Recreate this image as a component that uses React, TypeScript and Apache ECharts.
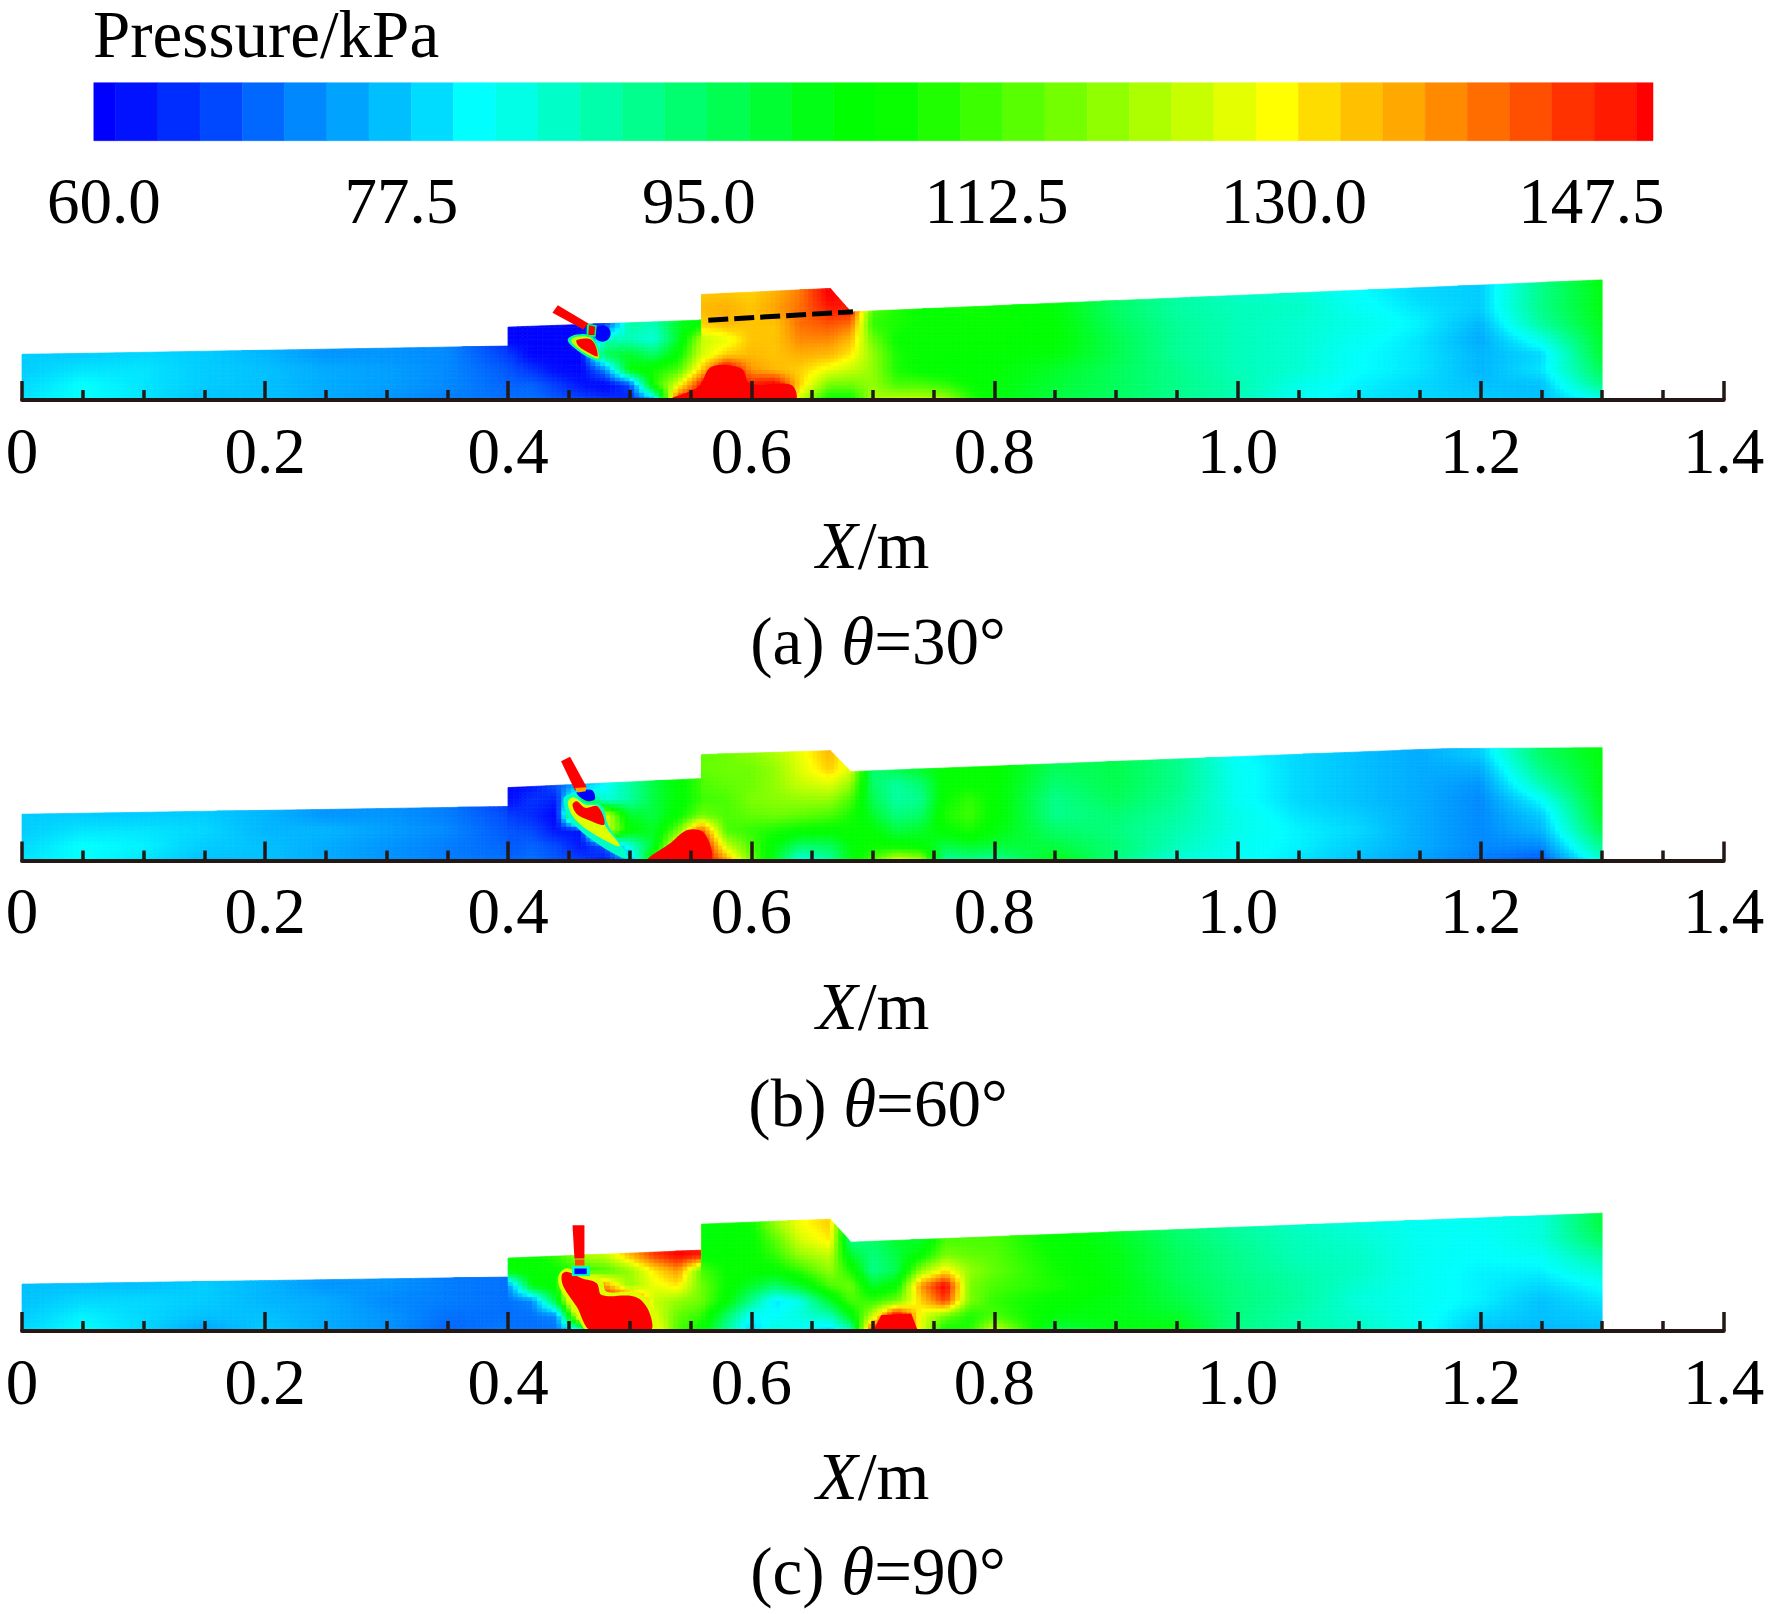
import React, { useEffect, useRef } from "react";
import * as echarts from "echarts";

const FONT = "Liberation Serif";
const INK = "#231815";

// Colour bar: band edges (kPa) and the colour of each band
const bandEdges = [59.4, 60.68, 63.17, 65.65, 68.14, 70.62, 73.11, 75.59, 78.08, 80.56, 83.05, 85.53, 88.02, 90.5, 92.99, 95.47, 97.96, 100.44, 102.93, 105.41, 107.9, 110.38, 112.87, 115.35, 117.84, 120.32, 122.81, 125.29, 127.78, 130.26, 132.75, 135.23, 137.72, 140.2, 142.69, 145.17, 147.66, 150.14, 151.12];
const bandColors = ["#0000ff", "#0012ff", "#002dff", "#0048ff", "#0068ff", "#0088ff", "#00a4ff", "#00bfff", "#00dcff", "#00ffff", "#00ffe6", "#00ffc8", "#00ffaa", "#00ff8c", "#00ff6e", "#00ff50", "#00ff32", "#00ff14", "#00ff00", "#08ff00", "#20ff00", "#3cff00", "#58ff00", "#74ff00", "#90ff00", "#adff00", "#c8ff00", "#e4ff00", "#ffff00", "#ffdc00", "#ffc000", "#ffa800", "#ff8a00", "#ff6c00", "#ff4f00", "#ff3200", "#ff1a00", "#ff0000"];
const colorbarLabels = [60, 77.5, 95, 112.5, 130, 147.5];

// Sample stations (m) of the pressure fields; each field lists one column per station, bottom to top.
// 0.4/0.4001 and 0.559/0.5591 are the two sides of the wall steps.
const stationX = [0, 0.05, 0.1, 0.15, 0.2, 0.25, 0.3, 0.35, 0.4, 0.4001, 0.42, 0.44, 0.46, 0.48, 0.5, 0.52, 0.54, 0.559, 0.5591, 0.58, 0.6, 0.62, 0.64, 0.665, 0.682, 0.7, 0.72, 0.74, 0.76, 0.78, 0.8, 0.85, 0.9, 0.95, 1, 1.05, 1.1, 1.15, 1.2, 1.25, 1.3];
const stationY = [0, 0.0125, 0.025, 0.0375, 0.05, 0.0625, 0.075, 0.0875, 0.1];

// Upper wall of the duct for each case (m)
const wallXA = [0, 0.4, 0.4, 0.559, 0.559, 0.665, 0.682, 1.3];
const wallYA = [0.0375, 0.0444, 0.06, 0.0657, 0.0868, 0.0918, 0.0725, 0.0988];
const wallXB = [0, 0.4, 0.4, 0.559, 0.559, 0.665, 0.682, 1.17, 1.3];
const wallYB = [0.0381, 0.0444, 0.06, 0.0674, 0.0871, 0.0904, 0.0731, 0.092, 0.0928];
const wallXC = [0, 0.4, 0.4, 0.559, 0.559, 0.665, 0.682, 1.3];
const wallYC = [0.0386, 0.0444, 0.06, 0.0665, 0.0879, 0.092, 0.0731, 0.0969];

const fieldA = [
  [80, 79, 78, 78, 78], [82, 82, 80, 78, 78], [80, 80, 80, 79, 78], [77, 78, 78, 78, 78], [77, 77, 77, 76, 76], [75, 75, 75, 73, 73], [73, 74, 74, 73, 73], [71, 72, 72, 72, 72],
  [70, 69, 68, 66, 64], [70, 69, 68, 66, 60, 60, 60], [70, 69, 65, 60, 60, 60, 60], [68, 66, 61, 60, 60, 60, 60], [67, 62, 60, 60, 60, 60, 60], [65, 60, 72, 97, 88, 65, 65], [63, 66, 103, 100, 88, 90, 90], [75, 108, 107, 95, 85, 88, 88], [145, 125, 112, 105, 100, 100, 100],
  [150, 145, 130, 123, 120, 105], [150, 145, 130, 123, 122, 130, 132, 131, 131], [150, 150, 150, 130, 125, 132, 133, 131, 131], [150, 145, 135, 132, 131, 131, 131, 130, 130], [150, 148, 132, 131, 131, 131, 134, 133, 133], [122, 130, 130, 133, 136, 138, 138, 137, 137], [105, 115, 125, 132, 136, 140, 145, 148, 148], [105, 115, 122, 128, 132, 138, 145, 145, 145],
  [120, 118, 118, 118, 115, 110, 112, 112, 112], [122, 112, 108, 108, 106, 108, 108], [122, 112, 105, 105, 106, 106, 106], [120, 110, 104, 105, 106, 106, 106], [110, 106, 104, 105, 105, 106, 107], [103, 103, 104, 104, 105, 106, 106, 106],
  [98, 99, 100, 103, 104, 104, 103, 103], [95, 96, 96, 97, 97, 96, 95, 95], [92, 92, 92, 91, 91, 91, 90, 90], [88, 89, 88, 88, 88, 88, 88, 87], [83, 84, 86, 86, 86, 86, 87, 86], [80, 81, 82, 82, 83, 84, 83, 82], [79, 79, 80, 80, 80, 81, 80, 79], [78, 77, 76, 76, 75, 76, 78, 78, 78], [77, 77, 80, 79, 84, 90, 92, 92, 92], [82, 92, 96, 99, 100, 101, 102, 102, 103],
];

const fieldB = [
  [80, 79, 78, 78, 78], [82, 82, 80, 78, 78], [80, 81, 80, 78, 78], [77, 78, 79, 78, 78], [77, 77, 76, 76, 76], [75, 75, 76, 73, 73], [73, 73, 74, 73, 73], [71, 71, 72, 71, 71],
  [70, 69, 68, 67, 65], [69, 68, 68, 66, 61, 60, 60], [70, 69, 67, 64, 65, 62, 60], [68, 67, 62, 60, 63, 68, 68], [66, 62, 62, 130, 100, 75, 75], [62, 68, 125, 125, 85, 82, 82], [75, 85, 105, 100, 90, 90, 90], [110, 100, 100, 98, 98, 98, 98], [150, 130, 115, 105, 104, 104, 104],
  [150, 150, 140, 115, 110, 111], [150, 150, 140, 115, 111, 112, 114, 114, 114], [135, 122, 112, 112, 112, 114, 115, 115, 115], [115, 112, 110, 114, 116, 115, 115, 117, 117], [100, 103, 108, 115, 117, 118, 118, 120, 120], [84, 95, 106, 114, 118, 122, 124, 125, 125], [90, 96, 105, 112, 118, 124, 130, 132, 132], [102, 103, 106, 108, 112, 118, 124, 124, 124],
  [112, 106, 104, 100, 97, 95, 94, 94], [124, 105, 98, 93, 90, 90, 97, 97], [120, 104, 100, 95, 92, 94, 100, 100], [90, 98, 105, 108, 106, 105, 104, 104], [92, 100, 108, 111, 110, 106, 105, 105], [90, 99, 103, 105, 105, 105, 105, 105],
  [102, 98, 95, 92, 92, 94, 96, 96], [93, 94, 93, 94, 96, 97, 97, 97], [85, 88, 89, 90, 91, 92, 92, 92], [83, 83, 84, 84, 83, 83, 83, 82], [80, 81, 81, 80, 79, 79, 79, 79], [77, 78, 79, 78, 77, 77, 77, 77], [74, 75, 75, 75, 75, 75, 75, 75], [71, 72, 72, 72, 72, 73, 75, 78], [68, 72, 76, 78, 82, 88, 92, 95], [85, 92, 97, 100, 101, 102, 102, 103],
];

const fieldC = [
  [79, 78, 77, 77, 77], [82, 81, 79, 77, 77], [79, 79, 79, 77, 77], [74, 77, 78, 78, 78], [78, 77, 76, 76, 76], [75, 75, 75, 73, 73], [73, 73, 72, 73, 73], [69, 70, 71, 71, 71],
  [71, 70, 70, 70, 70], [70, 70, 70, 72, 105, 105, 105], [70, 70, 72, 103, 105, 105, 105], [70, 72, 100, 106, 106, 110, 110], [80, 135, 150, 150, 110, 120, 120], [150, 150, 150, 135, 112, 122, 122], [150, 150, 148, 118, 118, 132, 132], [130, 125, 122, 125, 128, 142, 142], [112, 114, 118, 128, 135, 147, 147],
  [105, 110, 115, 115, 114, 145], [105, 110, 115, 115, 112, 105, 103, 103, 103], [90, 95, 104, 106, 106, 104, 104, 104, 104], [78, 82, 92, 100, 105, 105, 105, 106, 106], [85, 82, 80, 95, 105, 110, 113, 118, 118], [82, 85, 84, 100, 110, 118, 123, 126, 126], [78, 88, 100, 112, 118, 122, 128, 130, 130], [86, 102, 112, 115, 108, 100, 92, 92, 92],
  [145, 122, 110, 100, 92, 93, 95, 95], [150, 150, 115, 105, 97, 98, 100, 100], [125, 125, 130, 135, 118, 105, 100, 100], [105, 115, 142, 148, 128, 116, 112, 112], [108, 108, 116, 116, 118, 114, 112, 112], [124, 112, 110, 112, 114, 113, 112, 112],
  [97, 103, 105, 108, 107, 106, 105, 105], [102, 102, 102, 103, 102, 102, 101, 100], [103, 100, 98, 97, 96, 96, 95, 94], [92, 93, 93, 93, 92, 92, 91, 90], [89, 89, 90, 90, 89, 88, 88, 87], [87, 86, 85, 86, 87, 87, 86, 85], [83, 83, 83, 83, 83, 83, 83, 83], [77, 79, 81, 81, 81, 82, 82, 83], [76, 77, 77, 79, 81, 83, 85, 85], [77, 78, 80, 82, 86, 90, 95, 98, 98],
];

// Small sharp features: [pressure kPa, [x m, y m] ...]
const featuresA: any[] = [
  [151, [[0.5331, 0], [0.5564, 0.011], [0.5673, 0.0274], [0.5919, 0.026], [0.5988, 0.0137], [0.633, 0.0123], [0.6358, 0]]],
  [60, [[0.4843, 0.0548], [0.4823, 0.0596], [0.4775, 0.0616], [0.4727, 0.0596], [0.4707, 0.0548], [0.4727, 0.05], [0.4775, 0.048], [0.4823, 0.05]]],
  [90, [[0.449, 0.0498], [0.4564, 0.0539], [0.4693, 0.052], [0.4764, 0.0329], [0.466, 0.035], [0.4537, 0.0433]]],
  [122, [[0.4518, 0.0493], [0.4564, 0.052], [0.4682, 0.0507], [0.4748, 0.0345], [0.466, 0.037], [0.455, 0.0444]]],
  [151, [[0.4564, 0.0493], [0.4687, 0.0493], [0.4737, 0.0361], [0.4674, 0.0383], [0.4578, 0.0444]]],
  [95, [[0.4646, 0.063], [0.4728, 0.0616], [0.472, 0.052], [0.4646, 0.052]]],
  [151, [[0.4665, 0.0616], [0.4715, 0.0602], [0.4709, 0.0534], [0.466, 0.0534]]],
  [151, [[0.4408, 0.078], [0.466, 0.063], [0.4619, 0.058], [0.4364, 0.0717]]],
];
const featuresB: any[] = [
  [151, [[0.5153, 0], [0.5344, 0.0151], [0.5481, 0.0252], [0.5618, 0.0219], [0.5659, 0]]],
  [87, [[0.4455, 0.0507], [0.4537, 0.0548], [0.4633, 0.0479], [0.477, 0.0452], [0.4824, 0.0287], [0.4989, 0.0027], [0.4934, 0.0022], [0.466, 0.0192], [0.4509, 0.0342]]],
  [124, [[0.449, 0.0479], [0.4537, 0.052], [0.4633, 0.046], [0.4742, 0.0444], [0.4797, 0.0287], [0.492, 0.0123], [0.4879, 0.0123], [0.466, 0.0246], [0.4537, 0.0356]]],
  [148, [[0.4529, 0.046], [0.4564, 0.0487], [0.4633, 0.0433], [0.4737, 0.0444], [0.4791, 0.0296], [0.466, 0.0334], [0.4564, 0.0383]]],
  [60, [[0.4564, 0.0561], [0.4687, 0.058], [0.4715, 0.0507], [0.466, 0.0487], [0.4592, 0.052]]],
  [151, [[0.4435, 0.0816], [0.4509, 0.0854], [0.4646, 0.0602], [0.455, 0.0575]]],
  [134, [[0.455, 0.0597], [0.4641, 0.0602], [0.4638, 0.057], [0.4572, 0.0559]]],
];
const featuresC: any[] = [
  [151, [[0.7001, 0], [0.7069, 0.0131], [0.7316, 0.0145], [0.7371, 0]]],
  [124, [[0.4414, 0.0452], [0.4474, 0.0515], [0.4619, 0.0468], [0.4769, 0.0419], [0.4811, 0.0323], [0.5057, 0.0315], [0.5194, 0.0186], [0.5208, 0], [0.466, 0], [0.4537, 0.0186], [0.4427, 0.035]]],
  [151, [[0.4441, 0.046], [0.4482, 0.0487], [0.4605, 0.0433], [0.4728, 0.0392], [0.4769, 0.0296], [0.5043, 0.0282], [0.5153, 0.0172], [0.5166, 0], [0.4687, 0], [0.4564, 0.02], [0.4455, 0.0364]]],
  [87, [[0.4523, 0.0534], [0.4674, 0.0534], [0.4674, 0.0452], [0.4523, 0.0452]]],
  [60, [[0.4545, 0.0515], [0.4646, 0.0515], [0.4646, 0.0468], [0.4545, 0.0468]]],
  [141, [[0.455, 0.0589], [0.4627, 0.0589], [0.4627, 0.0539], [0.455, 0.0539]]],
  [151, [[0.4529, 0.0871], [0.4627, 0.0871], [0.4627, 0.0597], [0.4545, 0.0597]]],
];

// Dashed reference line of case (a) (m)
const dashedLineA = [[0.5646, 0.0657], [0.6837, 0.0726]];

const captions = ["(a) {i|θ}=30°", "(b) {i|θ}=60°", "(c) {i|θ}=90°"];
const panelsData = [
  { field: fieldA, wallX: wallXA, wallY: wallYA, features: featuresA },
  { field: fieldB, wallX: wallXB, wallY: wallYB, features: featuresB },
  { field: fieldC, wallX: wallXC, wallY: wallYC, features: featuresC },
];

const PX_PER_M = 1215.5;
const AXIS_LEFT = 22;
const baselines = [400, 860.5, 1331];
const captionTops = [607, 1069, 1537];

function hex(c: string) {
  return [1, 3, 5].map((i) => parseInt(c.slice(i, i + 2), 16));
}
const bandRgb = bandColors.map(hex);
function pressureColor(v0: number) {
  // readings above the green band were taken slightly low against the bar
  const v = v0 > 105 ? v0 + (v0 - 105) * 0.1 : v0;
  const pos = Math.max(0, Math.min(bandRgb.length - 1, (v - 61.92) / 2.485 + 1));
  const i = Math.min(bandRgb.length - 2, Math.floor(pos));
  const t = pos - i;
  const a = bandRgb[i];
  const b = bandRgb[i + 1];
  return `rgb(${a.map((n, k) => Math.round(n + (b[k] - n) * t)).join(",")})`;
}

function wallAt(xs: number[], ys: number[], x: number, side: number) {
  for (let i = 0; i < xs.length - 1; i++) {
    const x0 = xs[i];
    const x1 = xs[i + 1];
    if (x1 === x0) continue;
    const inside = side > 0 ? x >= x0 && x < x1 : x > x0 && x <= x1;
    if (inside) return ys[i] + ((ys[i + 1] - ys[i]) * (x - x0)) / (x1 - x0);
  }
  return ys[ys.length - 1];
}

function sample(col: number[], j: number) {
  return col[Math.min(j, col.length - 1)];
}

// keep the part of a cell under the wall segment from (xa,ha) to (xb,hb)
function clipUnderWall(xa: number, xb: number, ya: number, yb: number, ha: number, hb: number) {
  const rect = [[xa, ya], [xb, ya], [xb, yb], [xa, yb]];
  const side = (p: number[]) => ha + ((hb - ha) * (p[0] - xa)) / (xb - xa) - p[1];
  const out: number[][] = [];
  for (let k = 0; k < 4; k++) {
    const p = rect[k];
    const q = rect[(k + 1) % 4];
    const sp = side(p);
    const sq = side(q);
    if (sp >= 0) out.push(p);
    if (sp >= 0 !== sq >= 0) {
      const t = sp / (sp - sq);
      out.push([p[0] + (q[0] - p[0]) * t, p[1] + (q[1] - p[1]) * t]);
    }
  }
  return out;
}

function fieldSeries(panel: any, gridIndex: number) {
  const { field, wallX, wallY } = panel;
  const data: number[][] = [];
  for (let i = 0; i < stationX.length - 1; i++) {
    for (let j = 0; j < stationY.length - 1; j++) {
      data.push([stationX[i], stationY[j], sample(field[i], j), i, j]);
    }
  }
  return {
    type: "custom",
    xAxisIndex: gridIndex,
    yAxisIndex: gridIndex,
    coordinateSystem: "cartesian2d",
    clip: false,
    silent: true,
    z: 2,
    encode: { x: 0, y: 1 },
    data,
    renderItem(_p: any, api: any) {
      const i = api.value(3);
      const j = api.value(4);
      const x0 = stationX[i];
      const x1 = stationX[i + 1];
      const y0 = stationY[j];
      const y1 = stationY[j + 1];
      const w = (x1 - x0) * PX_PER_M;
      const nx = Math.ceil(w / 5);
      const ny = 4;
      const children: any[] = [];
      for (let a = 0; a < nx; a++) {
        const xa = x0 + ((x1 - x0) * a) / nx;
        const xb = x0 + ((x1 - x0) * (a + 1)) / nx;
        const ha = wallAt(wallX, wallY, xa, 1);
        const hb = wallAt(wallX, wallY, xb, -1);
        const xm = (a + 0.5) / nx;
        for (let b = 0; b < ny; b++) {
          const ya = y0 + ((y1 - y0) * b) / ny;
          const yb = y0 + ((y1 - y0) * (b + 1)) / ny;
          if (ya >= Math.max(ha, hb)) continue;
          const pts = clipUnderWall(xa, xb, ya, yb, ha, hb);
          if (pts.length < 3) continue;
          const ym = (b + 0.5) / ny;
          const v =
            (1 - xm) * ((1 - ym) * sample(field[i], j) + ym * sample(field[i], j + 1)) +
            xm * ((1 - ym) * sample(field[i + 1], j) + ym * sample(field[i + 1], j + 1));
          const fill = pressureColor(v);
          children.push({
            type: "polygon",
            shape: { points: pts.map((p) => api.coord(p)) },
            style: { fill, stroke: fill, lineWidth: 0.7 },
          });
        }
      }
      return { type: "group", children };
    },
  };
}

function featureSeries(panel: any, gridIndex: number) {
  return {
    type: "custom",
    xAxisIndex: gridIndex,
    yAxisIndex: gridIndex,
    coordinateSystem: "cartesian2d",
    clip: true,
    silent: true,
    z: 3,
    data: panel.features.map((f: any) => [f[1][0][0], f[1][0][1], f[0]]),
    encode: { x: 0, y: 1 },
    renderItem(p: any, api: any) {
      const f = panel.features[p.dataIndex];
      return {
        type: "polygon",
        shape: { points: f[1].map((q: number[]) => api.coord(q)), smooth: f[1].length > 4 ? 0.35 : 0 },
        style: { fill: pressureColor(f[0]) },
      };
    },
  };
}

function buildOption() {
  const grids: any[] = [{ left: 93.8, top: 82.7, width: 1559.2, height: 58 }];
  const xAxes: any[] = [
    {
      gridIndex: 0,
      type: "value",
      min: bandEdges[0],
      max: bandEdges[bandEdges.length - 1],
      axisLine: { show: false },
      axisTick: { show: false },
      splitLine: { show: false },
      axisLabel: {
        customValues: colorbarLabels,
        formatter: (v: number) => v.toFixed(1),
        margin: 28,
        color: "#000",
        fontFamily: FONT,
        fontSize: 65,
        hideOverlap: false,
      },
    },
  ];
  const yAxes: any[] = [{ gridIndex: 0, type: "value", min: 0, max: 1, show: false }];
  const series: any[] = [
    {
      type: "custom",
      xAxisIndex: 0,
      yAxisIndex: 0,
      coordinateSystem: "cartesian2d",
      silent: true,
      encode: { x: [0, 1] },
      data: bandColors.map((_, k) => [bandEdges[k], bandEdges[k + 1]]),
      renderItem(p: any, api: any) {
        const a = api.coord([api.value(0), 1]);
        const b = api.coord([api.value(1), 0]);
        return {
          type: "rect",
          shape: { x: a[0], y: a[1], width: b[0] - a[0], height: b[1] - a[1] },
          style: { fill: bandColors[p.dataIndex], stroke: bandColors[p.dataIndex], lineWidth: 0.5 },
        };
      },
    },
  ];
  panelsData.forEach((panel, n) => {
    const g = n + 1;
    grids.push({ left: AXIS_LEFT, width: 1.4 * PX_PER_M, top: baselines[n] - 0.1 * PX_PER_M, height: 0.1 * PX_PER_M });
    xAxes.push({
      gridIndex: g,
      type: "value",
      min: 0,
      max: 1.4,
      interval: 0.2,
      z: 10,
      axisLine: { show: true, onZero: false, lineStyle: { color: INK, width: 4 } },
      axisTick: { show: true, inside: true, length: 19, lineStyle: { color: INK, width: 3.5 } },
      minorTick: { show: true, splitNumber: 4, length: 10, lineStyle: { color: INK, width: 3.5 } },
      splitLine: { show: false },
      minorSplitLine: { show: false },
      axisLabel: {
        margin: 18,
        color: "#000",
        fontFamily: FONT,
        fontSize: 65,
        showMinLabel: true,
        showMaxLabel: true,
        hideOverlap: false,
        formatter: (v: number) => (v === 0 ? "0" : v.toFixed(1)),
      },
      name: "{i|X}/m",
      nameLocation: "middle",
      nameGap: 111,
      nameTextStyle: {
        color: "#000",
        fontFamily: FONT,
        fontSize: 68,
        rich: { i: { fontFamily: FONT, fontStyle: "italic", fontSize: 68, color: "#000" } },
      },
    });
    yAxes.push({ gridIndex: g, type: "value", min: 0, max: 0.1, show: false });
    series.push(fieldSeries(panel, g));
    series.push(featureSeries(panel, g));
  });
  series.push({
    type: "line",
    xAxisIndex: 1,
    yAxisIndex: 1,
    data: dashedLineA,
    showSymbol: false,
    silent: true,
    z: 5,
    lineStyle: { color: "#000", width: 5, type: [20, 6] },
  });
  const titles: any[] = [
    {
      text: "Pressure/kPa",
      left: 93,
      top: 4,
      padding: 0,
      textStyle: { color: "#000", fontFamily: FONT, fontSize: 67, lineHeight: 60, fontWeight: "normal" },
    },
  ];
  captions.forEach((text, n) => {
    titles.push({
      text,
      left: 878,
      top: captionTops[n],
      textAlign: "center",
      padding: 0,
      textStyle: {
        color: "#000",
        fontFamily: FONT,
        fontSize: 67,
        fontWeight: "normal",
        rich: { i: { fontFamily: FONT, fontStyle: "italic", fontSize: 67, color: "#000" } },
      },
    });
  });
  return { animation: false, backgroundColor: "#fff", title: titles, grid: grids, xAxis: xAxes, yAxis: yAxes, series };
}

export default function App() {
  const ref = useRef<HTMLDivElement>(null);
  useEffect(() => {
    const chart = echarts.init(ref.current!, undefined, { renderer: "svg" });
    chart.setOption(buildOption() as any);
    return () => chart.dispose();
  }, []);
  return <div ref={ref} style={{ position: "absolute", left: 0, top: 0, width: 1772, height: 1614 }} />;
}
